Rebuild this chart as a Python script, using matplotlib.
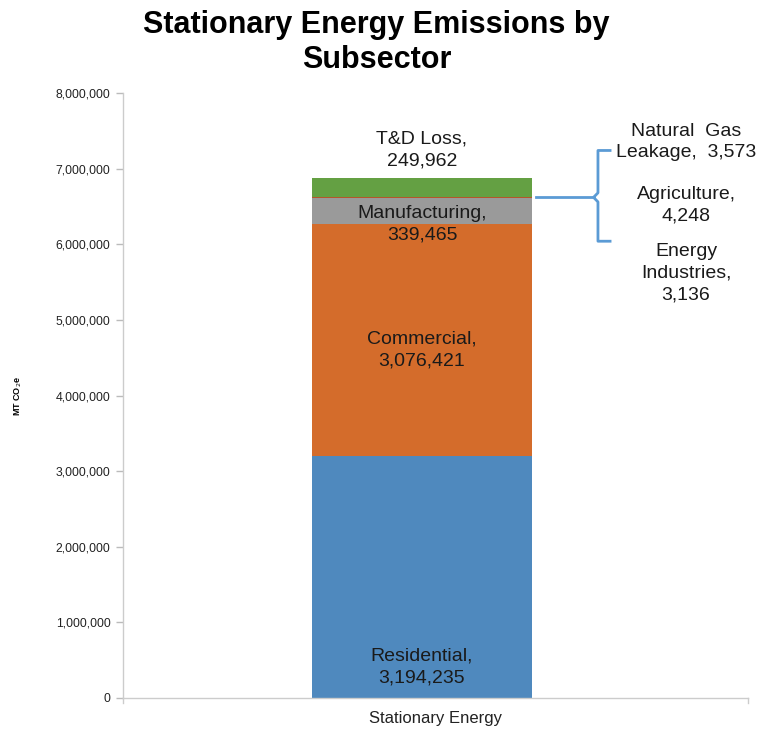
import matplotlib.pyplot as plt
from matplotlib.ticker import FuncFormatter

plt.rcParams['font.family'] = ['Liberation Sans', 'DejaVu Sans']

# data, bottom to top of the stack
subsectors = ['Residential', 'Commercial', 'Manufacturing', 'Energy Industries',
              'Agriculture', 'Natural Gas Leakage', 'T&D Loss']
values = [3194235, 3076421, 339465, 3136, 4248, 3573, 249962]
colors = ['#4F89BE', '#D46C2B', '#9A9A9A', '#F2B93B', '#3E5FA8', '#B5562A', '#64A043']
category = 'Stationary Energy'

fig = plt.figure(figsize=(7.62, 7.31), dpi=100)
ax = fig.add_axes([123 / 762, 33 / 731, 625 / 762, 605 / 731])

bottom = 0
for name, v, c in zip(subsectors, values, colors):
    ax.bar(0, v, width=1.0, bottom=bottom, color=c, linewidth=0)
    bottom += v

ax.set_xlim(-1.359, 1.482)
ax.set_ylim(0, 8000000)
ax.set_yticks(range(0, 8000001, 1000000))
ax.yaxis.set_major_formatter(FuncFormatter(lambda v, p: f'{int(v):,}'))
ax.set_xticks([0.06])
ax.set_xticklabels([category])
ax.tick_params(axis='y', labelsize=8.8, colors='#BBBBBB', labelcolor='#222222',
               length=5, width=1, pad=4)
ax.tick_params(axis='x', labelsize=12, length=0, pad=9, labelcolor='#222222')
for s in ['top', 'right']:
    ax.spines[s].set_visible(False)
for s in ['left', 'bottom']:
    ax.spines[s].set_color('#CCCCCC')
    ax.spines[s].set_linewidth(1)
# small end ticks on x axis
for xe in ax.get_xlim():
    ax.plot([xe, xe], [0, -70000], color='#CCCCCC', lw=1, clip_on=False)

ax.set_ylabel('MT CO$_2$e', fontsize=6.5, fontweight='bold', labelpad=0)
ax.yaxis.set_label_coords(-0.158, 0.5)

fs = 14
ls = 1.35
tc = '#1a1a1a'
# labels inside/above the bar
ax.text(0, 410000, 'Residential,\n3,194,235', ha='center', va='center',
        fontsize=fs, color=tc, linespacing=ls)
ax.text(0, 4600000, 'Commercial,\n3,076,421', ha='center', va='center',
        fontsize=fs, color=tc, linespacing=ls)
ax.text(0, 6268000, 'Manufacturing,\n339,465', ha='center', va='center',
        fontsize=fs, color=tc, linespacing=ls)
ax.text(0, 7246000, 'T&D Loss,\n249,962', ha='center', va='center',
        fontsize=fs, color=tc, linespacing=ls)

# small subsectors to the right
ax.text(1.2, 7352000, 'Natural  Gas\nLeakage,  3,573', ha='center', va='center',
        fontsize=fs, color=tc, linespacing=ls, clip_on=False)
ax.text(1.2, 6519000, 'Agriculture,\n4,248', ha='center', va='center',
        fontsize=fs, color=tc, linespacing=ls, clip_on=False)
ax.text(1.2, 5620000, 'Energy\nIndustries,\n3,136', ha='center', va='center',
        fontsize=fs, color=tc, linespacing=ls, clip_on=False)

# bracket
bc = '#5B9BD5'
ymid = 6620000
ax.plot([0.52, 0.78], [ymid, ymid], color=bc, lw=2, clip_on=False)
ax.plot([0.855, 0.80, 0.80, 0.78, 0.80, 0.80, 0.855],
        [7240000, 7240000, ymid + 60000, ymid, ymid - 60000, 6040000, 6040000],
        color=bc, lw=2, clip_on=False, solid_joinstyle='round')

fig.suptitle('Stationary Energy Emissions by\nSubsector', x=0.494, y=0.987,
             fontsize=22, fontweight='bold', linespacing=1.25)

fig.savefig('out.png', dpi=100)
